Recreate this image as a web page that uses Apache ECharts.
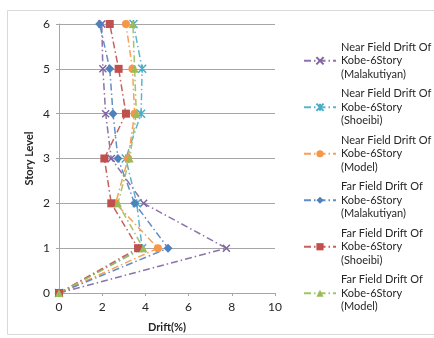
<!DOCTYPE html>
<html>
<head>
<meta charset="utf-8">
<script src="https://cdn.jsdelivr.net/npm/echarts@6/dist/echarts.min.js"></script>
<style>html,body{margin:0;padding:0;background:#fff;}#c{width:434px;height:338px;}</style>
</head>
<body>
<div id="c"></div>
<script>
var storyLevels = [0, 1, 2, 3, 4, 5, 6];
var xTicks = [0, 2, 4, 6, 8, 10];
var nearMalakutiyan = [0, 7.75, 3.92, 2.42, 2.16, 2.03, 1.98];
var nearShoeibi = [0, 3.85, 3.6, 3.09, 3.8, 3.85, 3.45];
var nearModel = [0, 4.58, 2.62, 3.2, 3.5, 3.4, 3.1];
var farMalakutiyan = [0, 5.05, 3.5, 2.73, 2.5, 2.35, 1.88];
var farShoeibi = [0, 3.66, 2.42, 2.1, 3.1, 2.76, 2.35];
var farModel = [0, 3.9, 2.73, 3.27, 3.58, 3.5, 3.42];
var seriesNames = [
  'Near Field Drift Of\nKobe-6Story\n(Malakutiyan)',
  'Near Field Drift Of\nKobe-6Story\n(Shoeibi)',
  'Near Field Drift Of\nKobe-6Story\n(Model)',
  'Far Field Drift Of\nKobe-6Story\n(Malakutiyan)',
  'Far Field Drift Of\nKobe-6Story\n(Shoeibi)',
  'Far Field Drift Of\nKobe-6Story\n(Model)'
];
var seriesValues = [nearMalakutiyan, nearShoeibi, nearModel, farMalakutiyan, farShoeibi, farModel];
var colors = ['#8064A2', '#4BACC6', '#F79646', '#4F81BD', '#C0504D', '#9BBB59'];
var symbols = [
  'path://M0,0L10,10M10,0L0,10',
  'path://M0,0L10,10M10,0L0,10M5,0L5,10',
  'circle', 'diamond', 'rect', 'triangle'
];
var symbolSizes = [7, 8, 8, 9, 8, 8];
var FONT = 'Lato';

var chart = echarts.init(document.getElementById('c'));
var series = seriesValues.map(function (vals, i) {
  var isPath = symbols[i].indexOf('path://') === 0;
  return {
    name: seriesNames[i],
    type: 'line',
    data: vals.map(function (v, k) { return [v, storyLevels[k]]; }),
    symbol: symbols[i],
    symbolSize: symbolSizes[i],
    showAllSymbol: true,
    lineStyle: { color: colors[i], width: 1.5, type: [7, 3, 1.5, 3], opacity: 0.9 },
    itemStyle: isPath ? { color: 'none', borderColor: colors[i], borderWidth: 1.5 } : { color: colors[i], borderWidth: 0 },
    emphasis: { disabled: true },
    z: 3
  };
});

chart.setOption({
  animation: false,
  backgroundColor: '#fff',
  color: colors,
  graphic: [{
    type: 'rect', shape: { x: 7.5, y: 10.5, width: 440, height: 324 },
    style: { fill: 'none', stroke: '#d9d9d9', lineWidth: 1 }, silent: true
  }],
  grid: { left: 59, right: 159, top: 24, bottom: 45, containLabel: false },
  xAxis: {
    type: 'value', min: 0, max: 10, interval: 2,
    name: 'Drift(%)', nameLocation: 'middle', nameGap: 29,
    nameTextStyle: { fontFamily: FONT, fontSize: 11, fontWeight: 'bold', color: '#262626' },
    axisLine: { show: true, lineStyle: { color: '#a6a6a6', width: 1 } },
    axisTick: { show: true, length: 3, lineStyle: { color: '#a6a6a6' } },
    axisLabel: { fontFamily: FONT, fontSize: 12, color: '#262626', margin: 8 },
    splitLine: { show: false }
  },
  yAxis: {
    type: 'value', min: 0, max: 6, interval: 1,
    name: 'Story Level', nameLocation: 'middle', nameGap: 24, nameRotate: 90,
    nameTextStyle: { fontFamily: FONT, fontSize: 11, fontWeight: 'bold', color: '#262626' },
    axisLine: { show: true, lineStyle: { color: '#a6a6a6', width: 1 } },
    axisTick: { show: true, length: 3, lineStyle: { color: '#a6a6a6' } },
    axisLabel: { fontFamily: FONT, fontSize: 12, color: '#262626', margin: 9 },
    splitLine: { show: true, lineStyle: { color: '#a6a6a6', width: 1 } }
  },
  legend: {
    orient: 'vertical', left: 298, top: 22,
    itemWidth: 32, itemHeight: 9, itemGap: -21,
    data: seriesNames,
    textStyle: { fontFamily: FONT, fontSize: 11, color: '#262626', lineHeight: 13.5, padding: [27, 0, 0, 0] },
    selectedMode: false
  },
  series: series
});
</script>
</body>
</html>
